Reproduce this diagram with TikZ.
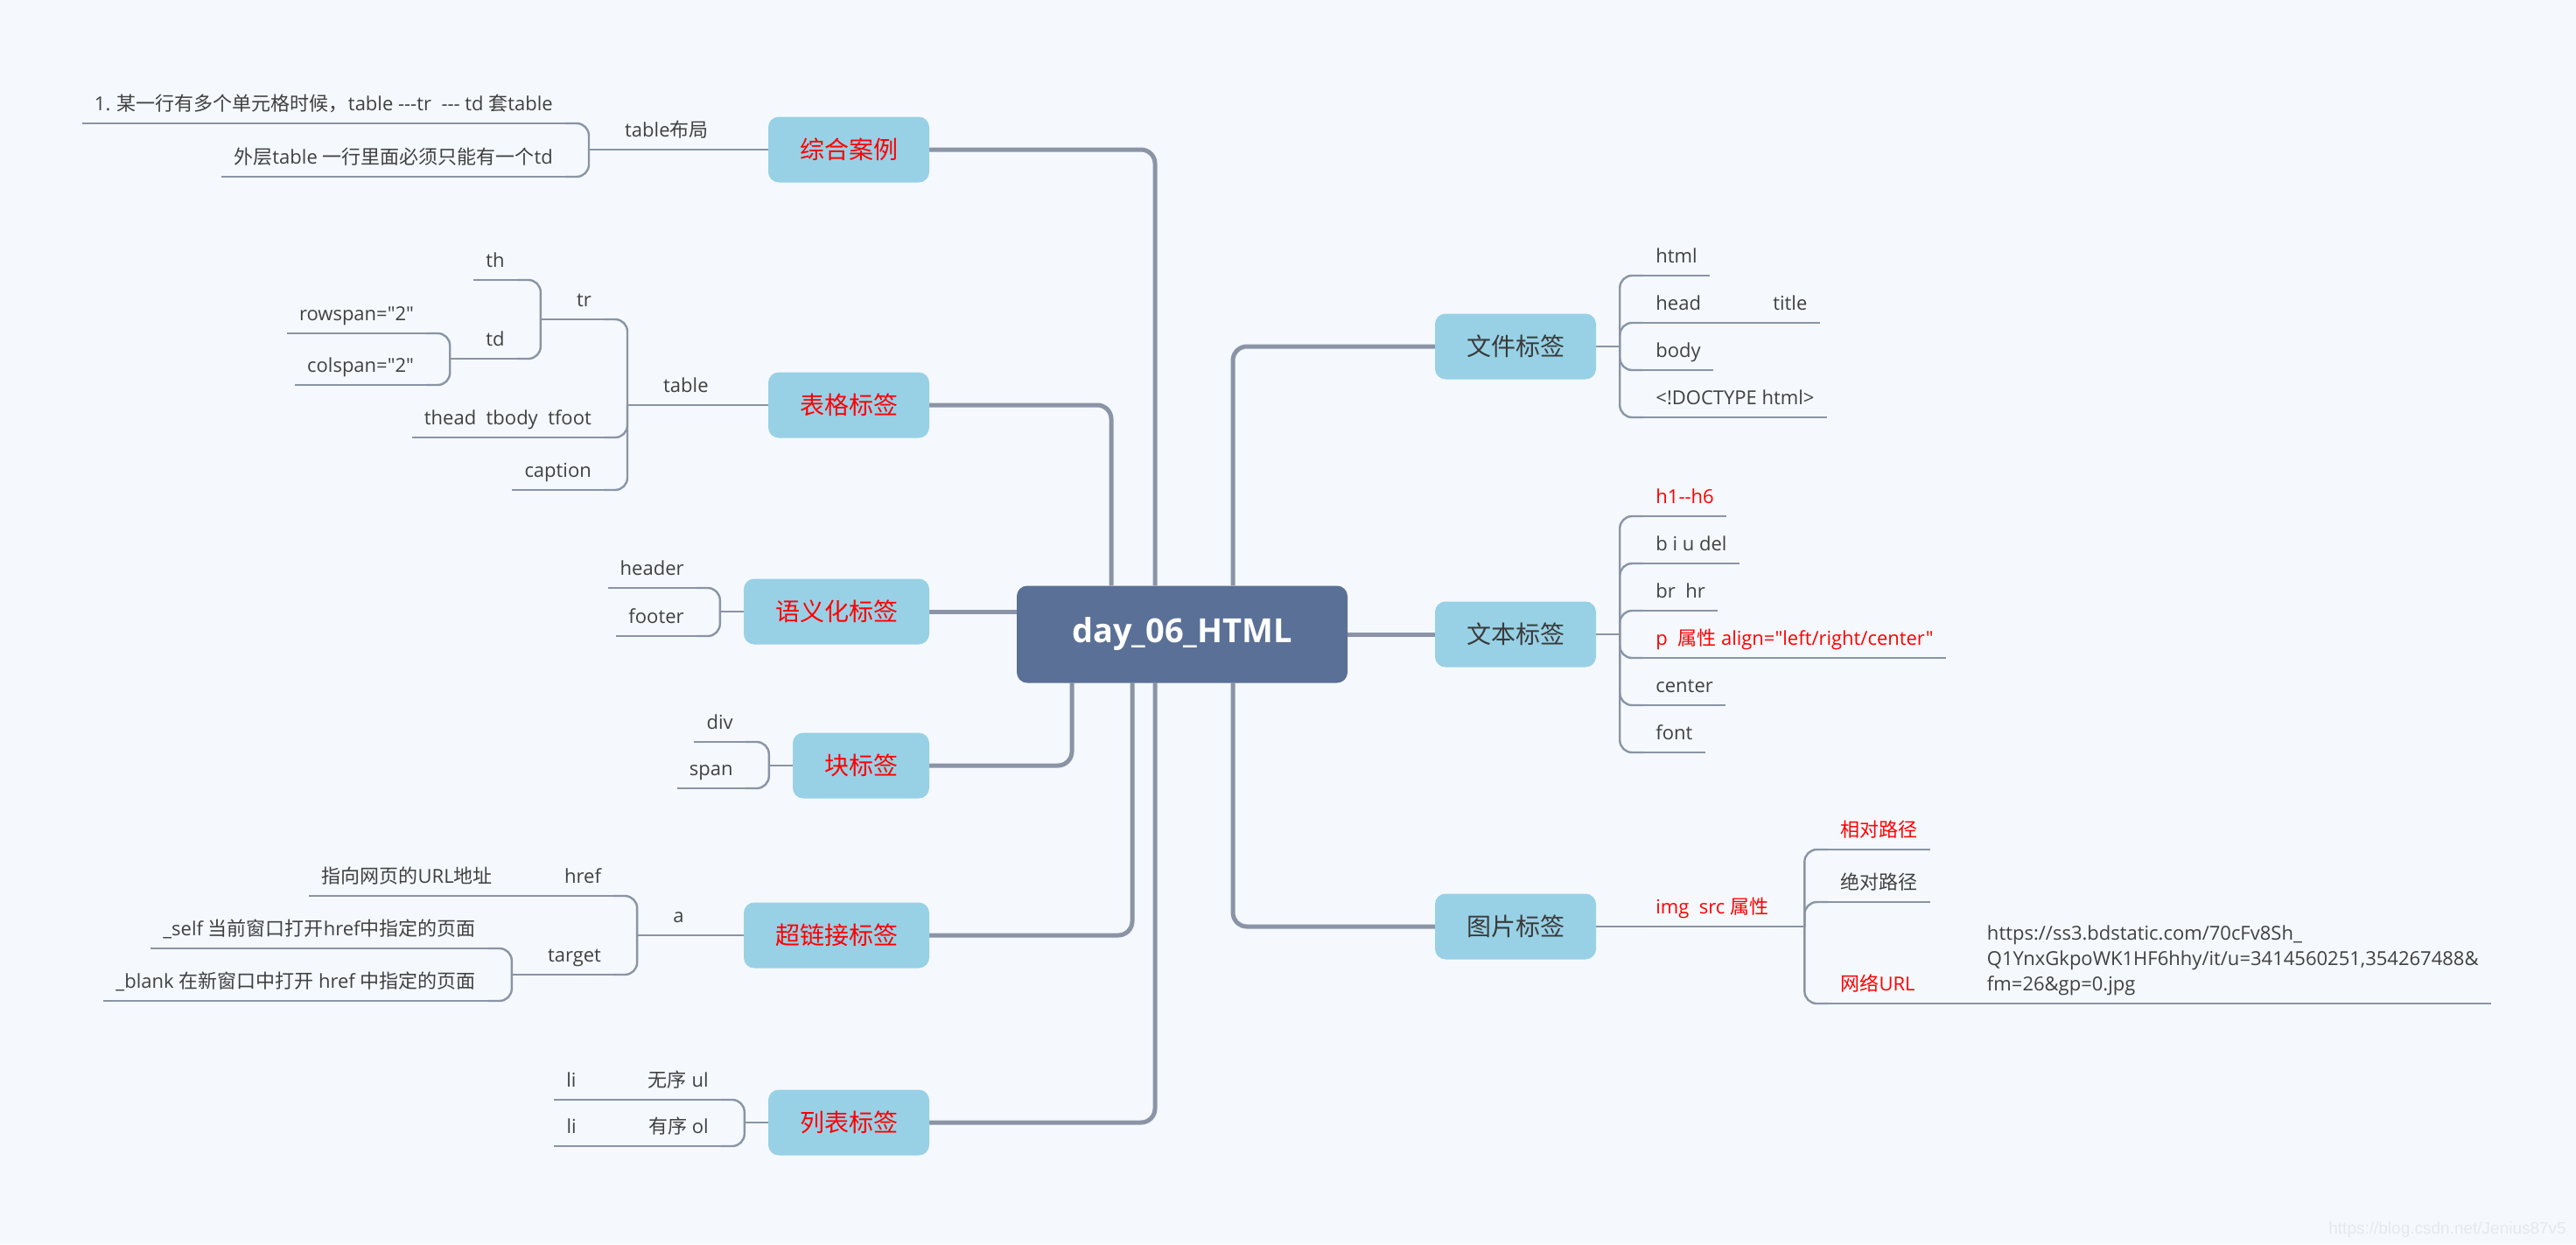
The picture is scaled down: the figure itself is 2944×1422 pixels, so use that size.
\documentclass[tikz,border=0pt]{standalone}
\usepackage{fontspec}
\newfontfamily\enf{Open Sans}
\newfontfamily\zhf{Noto Sans CJK SC}
\newfontfamily\wmf{Liberation Sans}
\newcommand\zh[1]{{\zhf #1}}
\usetikzlibrary{calc}
\definecolor{bgc}{HTML}{F5F9FD}
\definecolor{linecol}{HTML}{8A94A6}
\definecolor{topicfill}{HTML}{98D1E6}
\definecolor{centralfill}{HTML}{5A7096}
\definecolor{subtxt}{HTML}{404040}
\definecolor{rtxt}{HTML}{3A3A3A}
\definecolor{redtxt}{HTML}{FF0000}
\definecolor{wmcol}{HTML}{E4E9EE}
\pgfdeclarelayer{back}
\pgfdeclarelayer{bg}
\pgfsetlayers{back,bg,main}
\newcommand\lkids[3]{%
  \coordinate (#2) at ($(#1)+(-27,0)$);
  \draw[conn] (#1) -- (#2);
  \foreach \c in {#3} {\draw[conn] (#2) |- (\c.south east);}}
\newcommand\rkids[3]{%
  \coordinate (#2) at ($(#1)+(27,0)$);
  \draw[conn] (#1) -- (#2);
  \foreach \c in {#3} {\draw[conn] (#2) |- (\c.south west);}}
\begin{document}
\begin{tikzpicture}[x=1pt,y=-1pt,
  topic/.style={rectangle, rounded corners=12pt, fill=topicfill, minimum height=75pt, inner xsep=36pt, inner ysep=0pt, font=\zhf\fontsize{28pt}{34pt}\selectfont},
  ltopic/.style={topic, text=redtxt},
  rtopic/.style={topic, text=rtxt},
  sub/.style={inner xsep=14pt, inner ysep=0pt, text height=18pt, text depth=14pt, font=\enf\fontsize{22pt}{29pt}\selectfont, text=subtxt},
  lkid/.style={sub, anchor=south east},
  rkid/.style={sub, anchor=south west},
  conn/.style={draw=linecol, line width=2.4pt, rounded corners=14pt},
  mainc/.style={draw=linecol, line width=5pt, rounded corners=16pt},
]
\begin{pgfonlayer}{back}
\fill[bgc] (0,0) rectangle (2944,1422);
\end{pgfonlayer}
\useasboundingbox (0,0) rectangle (2944,1422);

% central
\node[fill=centralfill, rounded corners=12pt, minimum width=378pt, minimum height=111pt, inner sep=0pt, text=white, font=\enf\bfseries\fontsize{38pt}{44pt}\selectfont] (C) at (1351,725) {day\_06\_HTML};

% topics
\node[ltopic] (Z) at (970,171) {综合案例};
\node[ltopic] (B) at (970,463) {表格标签};
\node[ltopic] (S) at (956,699) {语义化标签};
\node[ltopic] (K) at (984,875) {块标签};
\node[ltopic] (H) at (956,1069) {超链接标签};
\node[ltopic] (L) at (970,1283) {列表标签};
\node[rtopic] (F) at (1732,396) {文件标签};
\node[rtopic] (T) at (1732,725) {文本标签};
\node[rtopic] (I) at (1732,1059) {图片标签};

% 综合案例
\node[lkid] (ZA) at ($(Z.west)+(-54,0)$) {table\zh{布局}};
\node[lkid] (ZA1) at ($(ZA.south west)+(-54,-30)$) {1. \zh{某一行有多个单元格时候，}table -{}-{}-tr\ \ -{}-{}- td \zh{套}table};
\node[lkid] (ZA2) at ($(ZA.south west)+(-54,31)$) {\zh{外层}table \zh{一行里面必须只能有一个}td};

% 表格标签
\node[lkid] (B1) at ($(B.west)+(-54,0)$) {table};
\node[lkid] (B11) at ($(B1.south west)+(-54,-98)$) {tr};
\node[lkid] (B12) at ($(B1.south west)+(-54,37)$) {thead\ \ tbody\ \ tfoot};
\node[lkid] (B13) at ($(B1.south west)+(-54,97)$) {caption};
\node[lkid] (B111) at ($(B11.south west)+(-54,-45)$) {th};
\node[lkid] (B112) at ($(B11.south west)+(-54,45)$) {td};
\node[lkid] (B1121) at ($(B112.south west)+(-54,-29)$) {rowspan="2"};
\node[lkid] (B1122) at ($(B112.south west)+(-54,30)$) {colspan="2"};

% 语义化标签
\node[lkid] (S1) at ($(S.west)+(-54,-27)$) {header};
\node[lkid] (S2) at ($(S.west)+(-54,28)$) {footer};

% 块标签
\node[lkid] (K1) at ($(K.west)+(-54,-27)$) {div};
\node[lkid] (K2) at ($(K.west)+(-54,26)$) {span};

% 超链接标签
\node[lkid] (H1) at ($(H.west)+(-54,0)$) {a};
\node[lkid] (H11) at ($(H1.south west)+(-54,-45)$) {href};
\node[lkid] (H12) at ($(H1.south west)+(-54,45)$) {target};
\node[lkid] (H111) at ($(H11.south west)+(-54,0)$) {\zh{指向网页的}URL\zh{地址}};
\node[lkid] (H121) at ($(H12.south west)+(-54,-30)$) {\_self \zh{当前窗口打开}href\zh{中指定的页面}};
\node[lkid] (H122) at ($(H12.south west)+(-54,30)$) {\_blank \zh{在新窗口中打开} href \zh{中指定的页面}};

% 列表标签
\node[lkid] (L1) at ($(L.west)+(-54,-26)$) {\zh{无序} ul};
\node[lkid] (L2) at ($(L.west)+(-54,27)$) {\zh{有序} ol};
\node[lkid] (L11) at ($(L1.south west)+(-54,0)$) {li};
\node[lkid] (L21) at ($(L2.south west)+(-54,0)$) {li};

% 文件标签
\node[rkid] (F1) at ($(F.east)+(54,-81)$) {html};
\node[rkid] (F2) at ($(F.east)+(54,-27)$) {head};
\node[rkid] (F3) at ($(F.east)+(54,27)$) {body};
\node[rkid] (F4) at ($(F.east)+(54,81)$) {<!DOCTYPE html>};
\node[rkid] (F21) at ($(F2.south east)+(54,0)$) {title};

% 文本标签
\node[rkid, text=redtxt] (T1) at ($(T.east)+(54,-135)$) {h1-{}-h6};
\node[rkid] (T2) at ($(T.east)+(54,-81)$) {b i u del};
\node[rkid] (T3) at ($(T.east)+(54,-27)$) {br\ \ hr};
\node[rkid, text=redtxt] (T4) at ($(T.east)+(54,27)$) {p\ \ \zh{属性} align="left/right/center"};
\node[rkid] (T5) at ($(T.east)+(54,81)$) {center};
\node[rkid] (T6) at ($(T.east)+(54,135)$) {font};

% 图片标签
\node[rkid, text=redtxt] (I1) at ($(I.east)+(54,0)$) {img\ \ src \zh{属性}};
\node[rkid, text=redtxt] (I11) at ($(I1.south east)+(54,-88)$) {\zh{相对路径}};
\node[rkid] (I12) at ($(I1.south east)+(54,-28)$) {\zh{绝对路径}};
\node[rkid, text=redtxt] (I13) at ($(I1.south east)+(54,88)$) {\zh{网络}URL};
\node[inner xsep=14pt, inner ysep=0pt, text depth=14pt, font=\enf\fontsize{22pt}{29pt}\selectfont, text=subtxt, anchor=south west] (I131) at ($(I13.south east)+(54,0)$) {\vbox{\hbox{https://ss3.bdstatic.com/70cFv8Sh\_}\hbox{Q1YnxGkpoWK1HF6hhy/it/u=3414560251,354267488\&}\hbox{fm=26\&gp=0.jpg}}};

% watermark
\node[font=\wmf\fontsize{19pt}{19pt}\selectfont, text=wmcol, anchor=base east, inner sep=0pt] (WM) at (2933,1410) {https://blog.csdn.net/Jenius87v5};

\begin{pgfonlayer}{bg}
% main connectors
\draw[mainc] (Z.east) -| ([xshift=-31pt]C.north);
\draw[mainc] (B.east) -| ([xshift=-81pt]C.north);
\draw[mainc] (S.east) -- (S.east -| C.west);
\draw[mainc] (K.east) -| ([xshift=-126pt]C.south);
\draw[mainc] (H.east) -| ([xshift=-57pt]C.south);
\draw[mainc] (L.east) -| ([xshift=-31pt]C.south);
\draw[mainc] (F.west) -| ([xshift=58pt]C.north);
\draw[mainc] (C.east) -- (T.west);
\draw[mainc] (I.west) -| ([xshift=58pt]C.south);

% sub connectors
\draw[conn] (Z.west) -- (ZA.south east);
\lkids{ZA.south west}{jZA}{ZA1,ZA2}
\draw[conn] (B.west) -- (B1.south east);
\lkids{B1.south west}{jB1}{B11,B12,B13}
\lkids{B11.south west}{jB11}{B111,B112}
\lkids{B112.south west}{jB112}{B1121,B1122}
\lkids{S.west}{jS}{S1,S2}
\lkids{K.west}{jK}{K1,K2}
\draw[conn] (H.west) -- (H1.south east);
\lkids{H1.south west}{jH1}{H11,H12}
\draw[conn] (H11.south west) -- (H111.south east);
\lkids{H12.south west}{jH12}{H121,H122}
\lkids{L.west}{jL}{L1,L2}
\draw[conn] (L1.south west) -- (L11.south east);
\draw[conn] (L2.south west) -- (L21.south east);
\rkids{F.east}{jF}{F1,F2,F3,F4}
\draw[conn] (F2.south east) -- (F21.south west);
\rkids{T.east}{jT}{T1,T2,T3,T4,T5,T6}
\draw[conn] (I.east) -- (I1.south west);
\rkids{I1.south east}{jI1}{I11,I12,I13}
\draw[conn] (I13.south east) -- (I131.south west);

% underlines
\foreach \n in {ZA,ZA1,ZA2,B1,B11,B12,B13,B111,B112,B1121,B1122,S1,S2,K1,K2,H1,H11,H12,H111,H121,H122,L1,L2,L11,L21,F1,F2,F3,F4,F21,T1,T2,T3,T4,T5,T6,I1,I11,I12,I13,I131}
  \draw[conn] (\n.south west) -- (\n.south east);
\end{pgfonlayer}
\end{tikzpicture}
\end{document}
